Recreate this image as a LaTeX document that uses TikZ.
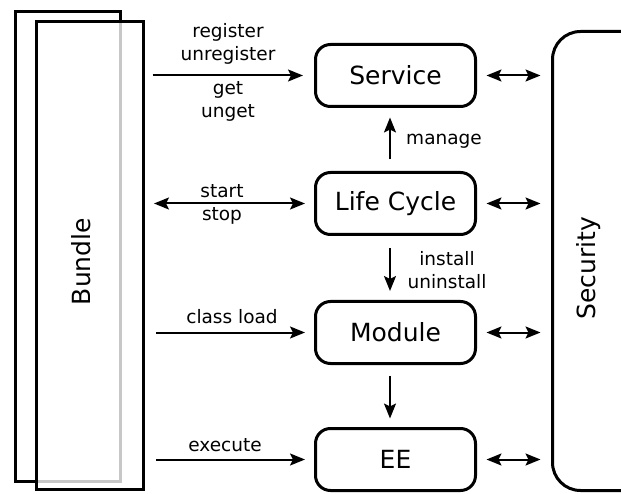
\documentclass[tikz,border=0pt]{standalone}
\usepackage{fontspec}
\setmainfont{DejaVu Sans}
\usetikzlibrary{arrows.meta,calc}
\begin{document}
\begin{tikzpicture}[x=1pt,y=-1pt,
  >={Stealth[length=15pt,width=12pt,inset=3pt]},
  box/.style={draw, line width=3pt, rounded corners=15pt, minimum width=160pt, minimum height=62pt, font=\fontsize{25}{30}\selectfont, inner sep=0pt},
  big/.style={font=\fontsize{25}{30}\selectfont, inner sep=0pt, rotate=90, anchor=base},
  lab/.style={font=\fontsize{18.5}{23}\selectfont, align=center, inner sep=0pt},
  arr/.style={line width=2pt, ->},
  darr/.style={line width=2pt, <->},
]
\useasboundingbox (0,0) rectangle (621,494);
% Bundle
\node[draw, line width=3pt, minimum width=105pt, minimum height=470pt, inner sep=0pt] (bback) at (68,246.5) {};
\node[draw, line width=3pt, fill=white, fill opacity=0.78, minimum width=107pt, minimum height=468pt, inner sep=0pt] (bundle) at (90,255.5) {};
\node[big] (bundletext) at (90,261.5) {Bundle};
% Security
\begin{scope}
\clip (0,0) rectangle (621,494);
\node[draw, line width=3pt, rounded corners=28pt, minimum width=147.5pt, minimum height=459pt, inner sep=0pt] (sec) at (626.25,261) {};
\end{scope}
\node[big] (sectext) at (595,268.5) {Security};
% layer boxes
\node[box] (svc) at (395.5,75.5) {Service};
\node[box] (lc) at (395.5,203.5) {Life Cycle};
\node[box] (mod) at (395.5,332.5) {Module};
\node[box] (ee) at (395.5,459.5) {EE};
% left arrows
\draw[arr, shorten <=7.5pt, shorten >=11pt] (bundle.east |- svc.west) -- (svc.west);
\draw[darr, shorten <=9pt, shorten >=9pt] (bundle.east |- lc.west) -- (lc.west);
\draw[arr, shorten <=11pt, shorten >=9pt] (bundle.east |- mod.west) -- (mod.west);
\draw[arr, shorten <=11pt, shorten >=9pt] (bundle.east |- ee.west) -- (ee.west);
% labels left
\node[lab] (l1) at (228,44) {register\\unregister};
\node[lab] (l2) at (228,101) {get\\unget};
\node[lab] (l3) at (222,204) {start\\stop};
\node[lab] (l4) at (232,317) {class load};
\node[lab] (l5) at (225,445) {execute};
% right arrows
\foreach \n in {svc,lc,mod,ee}
  \draw[darr, shorten <=9.5pt, shorten >=10.5pt] (\n.east) -- (sec.west |- \n.east);
% vertical arrows
\draw[arr, shorten <=11.5pt, shorten >=9.5pt] ([xshift=-5.5pt]lc.north) -- ([xshift=-5.5pt]svc.south);
\draw[arr, shorten <=12pt, shorten >=9pt] ([xshift=-5.5pt]lc.south) -- ([xshift=-5.5pt]mod.north);
\draw[arr, shorten <=10.5pt, shorten >=8.5pt] ([xshift=-5.5pt]mod.south) -- ([xshift=-5.5pt]ee.north);
\node[lab] (l6) at (444,141) {manage};
\node[lab] (l7) at (447,270) {install\\uninstall};
\end{tikzpicture}
\end{document}
